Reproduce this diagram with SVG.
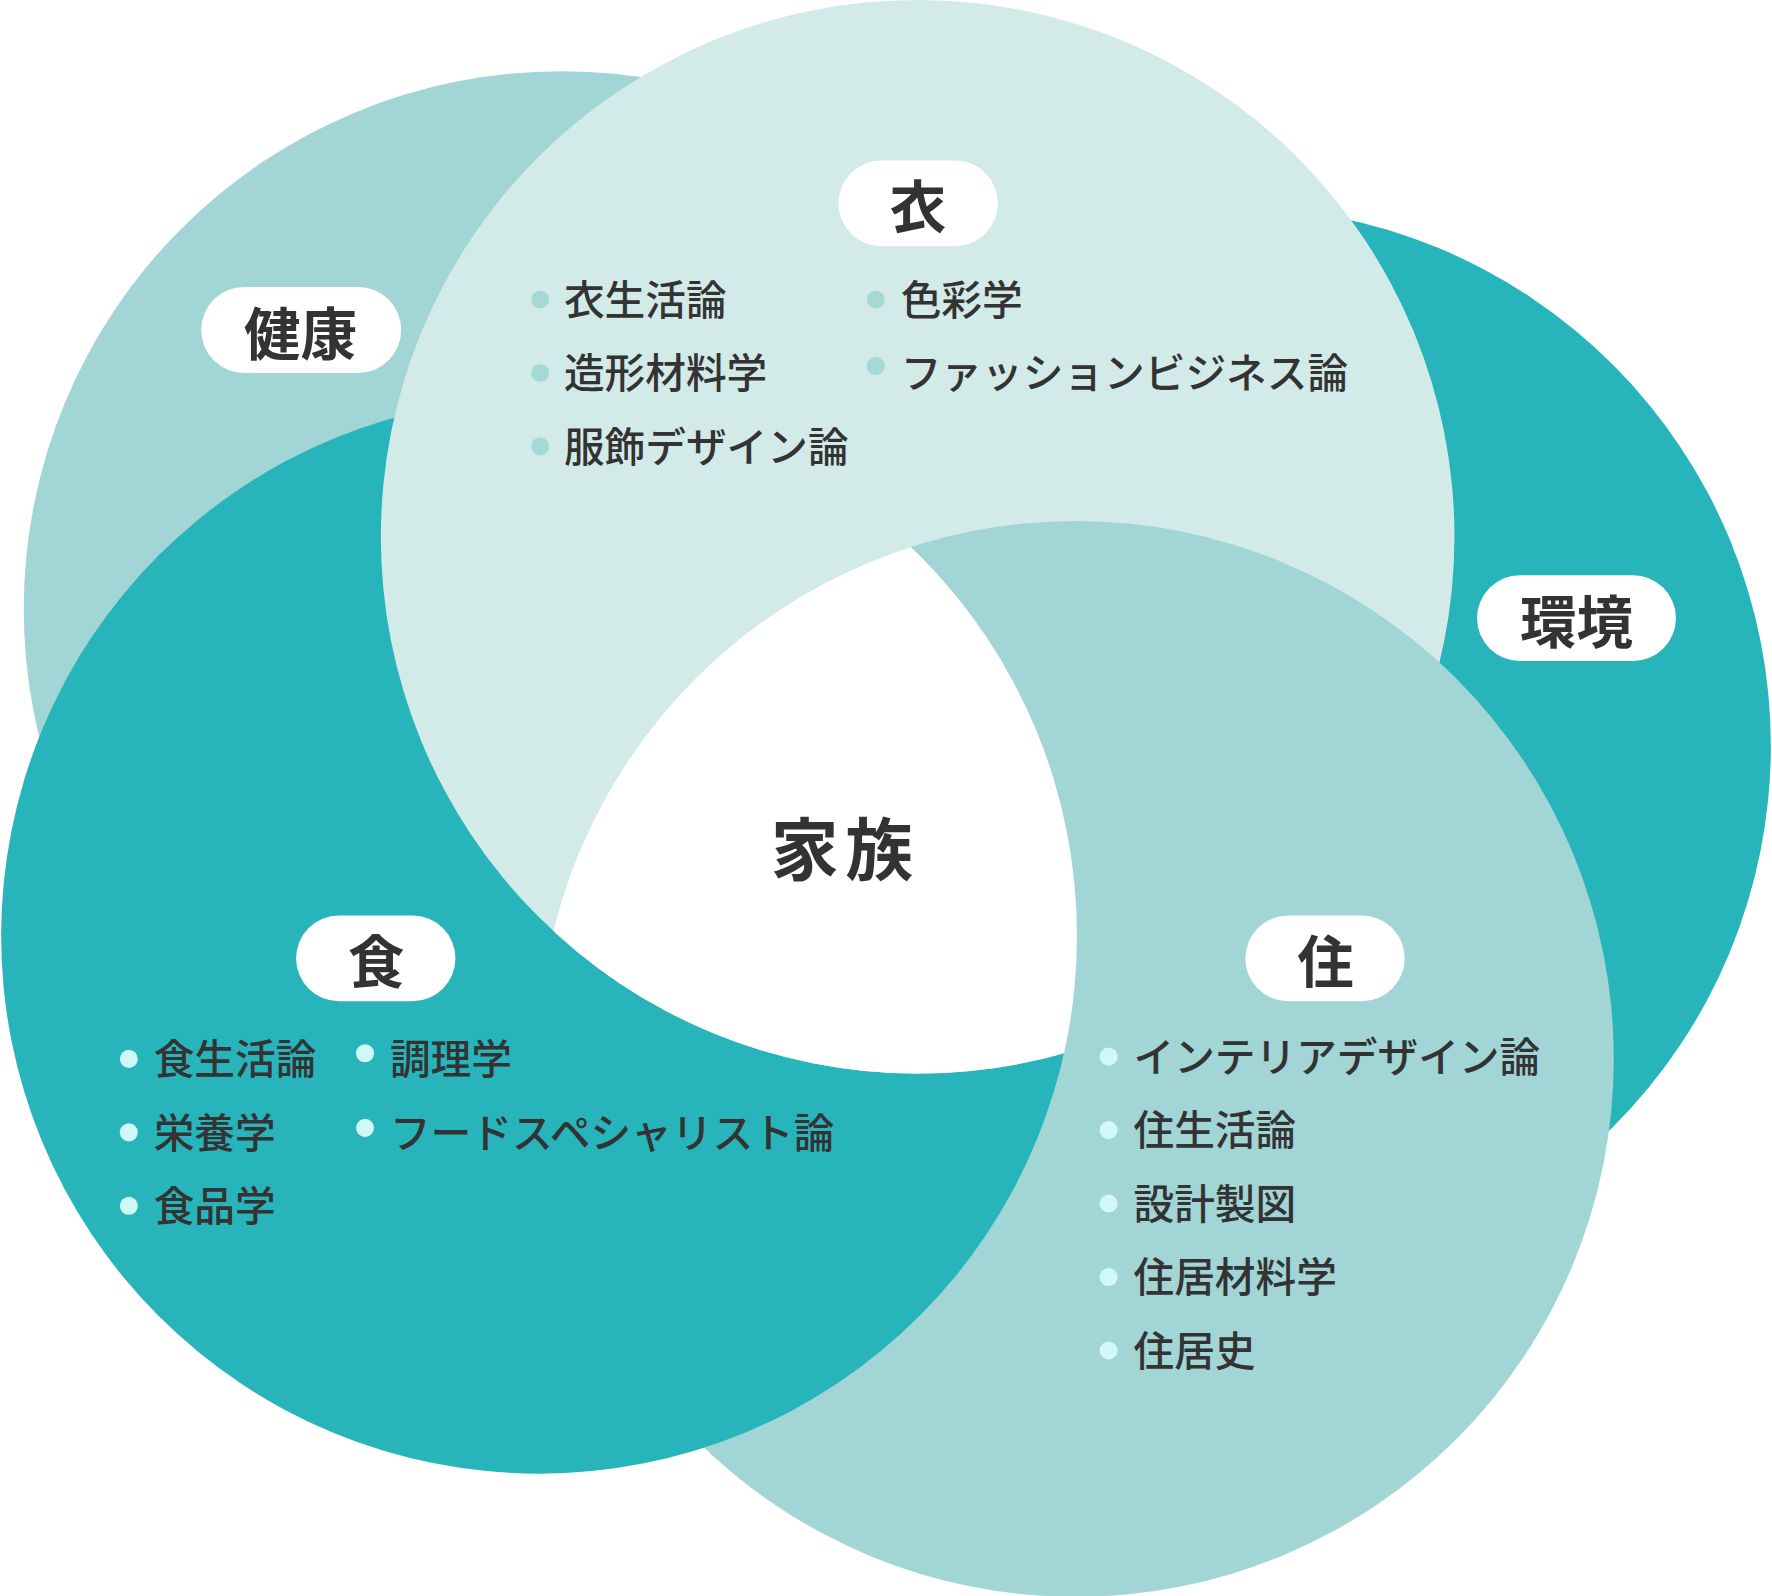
<svg xmlns="http://www.w3.org/2000/svg" width="1772" height="1596" viewBox="0 0 1772 1596">
<style>
text{font-family:"Noto Sans CJK JP","Noto Sans",sans-serif;fill:#333;dominant-baseline:central}
.it{font-size:36px;font-weight:500}
.hd{font-size:50px;font-weight:700;text-anchor:middle}
.pill{fill:#fff}
.b1{fill:#a6d8d8}.b2{fill:#d0f8f6}
</style>
<defs>
<clipPath id="cYi"><circle cx="812" cy="475" r="475"/></clipPath>
<clipPath id="cSh"><circle cx="477" cy="828" r="476"/></clipPath>
</defs>
<g transform="scale(1.1301)">
<g id="circles">
<circle id="kenko-c" cx="497" cy="539" r="476" fill="#a2d5d5"/>
<circle id="kankyo-c" cx="1090" cy="660" r="477" fill="#27b5bb"/>
<circle id="ju-c" cx="952" cy="937" r="476" fill="#a2d5d5"/>
<circle id="shoku-c" cx="477" cy="828" r="476" fill="#27b5bb"/>
<circle id="i-c" cx="812" cy="475" r="475" fill="#d3ebe8"/>
<g clip-path="url(#cYi)"><circle cx="952" cy="937" r="476" fill="#a2d5d5"/>
<g clip-path="url(#cSh)"><circle cx="952" cy="937" r="476" fill="#fff"/></g></g>
</g>
<g id="center"><text x="748" y="748" class="hd" style="font-size:60px;letter-spacing:6px">家族</text></g>
<g id="i"><rect class="pill" x="742" y="142" width="141" height="76" rx="38"/><text class="hd" x="812" y="180">衣</text>
<circle class="b1" cx="478" cy="265" r="8"/><text class="it" x="499" y="263">衣生活論</text>
<circle class="b1" cx="478" cy="330" r="8"/><text class="it" x="499" y="328">造形材料学</text>
<circle class="b1" cx="478" cy="395" r="8"/><text class="it" x="499" y="393">服飾デザイン論</text>
<circle class="b1" cx="775" cy="265" r="8"/><text class="it" x="797" y="263">色彩学</text>
<circle class="b1" cx="775" cy="324" r="8"/><text class="it" x="797" y="328">ファッションビジネス論</text>
</g>
<g id="kenko"><rect class="pill" x="178" y="254" width="177" height="76" rx="38"/><text class="hd" x="266" y="292">健康</text></g>
<g id="kankyo"><rect class="pill" x="1307" y="509" width="176" height="76" rx="38"/><text class="hd" x="1395" y="547">環境</text></g>
<g id="shoku"><rect class="pill" x="262" y="810" width="141" height="76" rx="38"/><text class="hd" x="333" y="848">食</text>
<circle class="b2" cx="114" cy="937" r="8"/><text class="it" x="136" y="935">食生活論</text>
<circle class="b2" cx="114" cy="1002" r="8"/><text class="it" x="136" y="1000">栄養学</text>
<circle class="b2" cx="114" cy="1067" r="8"/><text class="it" x="136" y="1065">食品学</text>
<circle class="b2" cx="323" cy="932" r="8"/><text class="it" x="345" y="935">調理学</text>
<circle class="b2" cx="323" cy="998" r="8"/><text class="it" x="345" y="1000">フードスペシャリスト論</text>
</g>
<g id="ju"><rect class="pill" x="1102" y="810" width="141" height="76" rx="38"/><text class="hd" x="1173" y="848">住</text>
<circle class="b2" cx="981" cy="935" r="8"/><text class="it" x="1003" y="933">インテリアデザイン論</text>
<circle class="b2" cx="981" cy="1000" r="8"/><text class="it" x="1003" y="998">住生活論</text>
<circle class="b2" cx="981" cy="1065" r="8"/><text class="it" x="1003" y="1063">設計製図</text>
<circle class="b2" cx="981" cy="1130" r="8"/><text class="it" x="1003" y="1128">住居材料学</text>
<circle class="b2" cx="981" cy="1195" r="8"/><text class="it" x="1003" y="1193">住居史</text>
</g>
</g>
</svg>
